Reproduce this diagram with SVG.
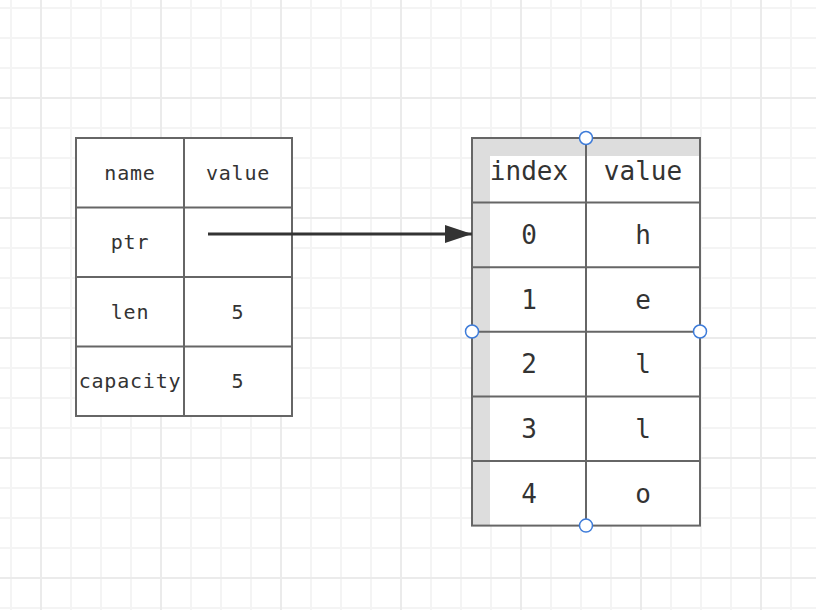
<svg xmlns="http://www.w3.org/2000/svg" width="816" height="610" viewBox="0 0 816 610">
  <style>
    .cell { fill: #ffffff; stroke: #666666; stroke-width: 2; }
    .rule { stroke: #666666; stroke-width: 2; }
    .txt { font-family: "DejaVu Sans Mono", "Liberation Mono", monospace; fill: #333333; text-anchor: middle; dominant-baseline: central; }
    .sm { font-size: 20px; letter-spacing: 0.8px; }
    .lg { font-size: 26px; letter-spacing: 0px; }
    .band { fill: #dddddd; }
    .handle { fill: #ffffff; stroke: #3d7bd9; stroke-width: 1.5; }
    .wire { stroke: #333333; stroke-width: 3; fill: none; }
  </style>
  <defs>
    <pattern id="grid" patternUnits="userSpaceOnUse" x="41" y="98" width="120" height="120">
      <g stroke="#f4f4f4" stroke-width="2">
        <line x1="30" y1="0" x2="30" y2="120"/>
        <line x1="60" y1="0" x2="60" y2="120"/>
        <line x1="90" y1="0" x2="90" y2="120"/>
        <line x1="0" y1="30" x2="120" y2="30"/>
        <line x1="0" y1="60" x2="120" y2="60"/>
        <line x1="0" y1="90" x2="120" y2="90"/>
      </g>
      <g stroke="#ebebeb" stroke-width="2">
        <line x1="0" y1="0" x2="0" y2="120"/>
        <line x1="0" y1="0" x2="120" y2="0"/>
        <line x1="120" y1="0" x2="120" y2="120"/>
        <line x1="0" y1="120" x2="120" y2="120"/>
      </g>
    </pattern>
    <marker id="head" markerUnits="userSpaceOnUse" markerWidth="28" markerHeight="20" refX="27" refY="9" orient="auto">
      <path d="M0,0 L27,9 L0,18 Z" fill="#333333"/>
    </marker>
  </defs>

  <!-- canvas -->
  <rect x="0" y="0" width="816" height="610" fill="#ffffff"/>
  <rect x="0" y="0" width="816" height="610" fill="url(#grid)"/>

  <!-- struct table: name / value -->
  <g id="struct-table">
    <rect class="cell" x="76" y="138" width="216" height="278"/>
    <line class="rule" x1="184" y1="138" x2="184" y2="416"/>
    <line class="rule" x1="76" y1="207.5" x2="292" y2="207.5"/>
    <line class="rule" x1="76" y1="277" x2="292" y2="277"/>
    <line class="rule" x1="76" y1="346.5" x2="292" y2="346.5"/>
    <text class="txt sm" x="130" y="173">name</text>
    <text class="txt sm" x="238" y="173">value</text>
    <text class="txt sm" x="130" y="242">ptr</text>
    <text class="txt sm" x="130" y="312">len</text>
    <text class="txt sm" x="238" y="312">5</text>
    <text class="txt sm" x="130" y="381">capacity</text>
    <text class="txt sm" x="238" y="381">5</text>
  </g>

  <!-- heap table: index / value -->
  <g id="heap-table">
    <rect x="472" y="138" width="228" height="387.6" fill="#ffffff"/>
    <rect class="band" x="472" y="138" width="228" height="18"/>
    <rect class="band" x="472" y="138" width="18" height="387.6"/>
    <rect x="472" y="138" width="228" height="387.6" fill="none" stroke="#666666" stroke-width="2"/>
    <line class="rule" x1="586" y1="138" x2="586" y2="525.6"/>
    <line class="rule" x1="472" y1="202.6" x2="700" y2="202.6"/>
    <line class="rule" x1="472" y1="267.2" x2="700" y2="267.2"/>
    <line class="rule" x1="472" y1="331.8" x2="700" y2="331.8"/>
    <line class="rule" x1="472" y1="396.4" x2="700" y2="396.4"/>
    <line class="rule" x1="472" y1="461" x2="700" y2="461"/>
    <text class="txt lg" x="529" y="171">index</text>
    <text class="txt lg" x="643" y="171">value</text>
    <text class="txt lg" x="529" y="235">0</text>
    <text class="txt lg" x="643" y="235">h</text>
    <text class="txt lg" x="529" y="300">1</text>
    <text class="txt lg" x="643" y="300">e</text>
    <text class="txt lg" x="529" y="364">2</text>
    <text class="txt lg" x="643" y="364">l</text>
    <text class="txt lg" x="529" y="429">3</text>
    <text class="txt lg" x="643" y="429">l</text>
    <text class="txt lg" x="529" y="494">4</text>
    <text class="txt lg" x="643" y="494">o</text>
  </g>

  <!-- selection handles -->
  <g id="handles">
    <circle class="handle" cx="586" cy="138" r="6.5"/>
    <circle class="handle" cx="472" cy="331.5" r="6.5"/>
    <circle class="handle" cx="700" cy="331.5" r="6.5"/>
    <circle class="handle" cx="586" cy="525.6" r="6.5"/>
  </g>

  <!-- connectors -->
  <g id="connectors">
    <line class="wire" x1="208" y1="234" x2="472" y2="234" marker-end="url(#head)"/>
  </g>
</svg>
